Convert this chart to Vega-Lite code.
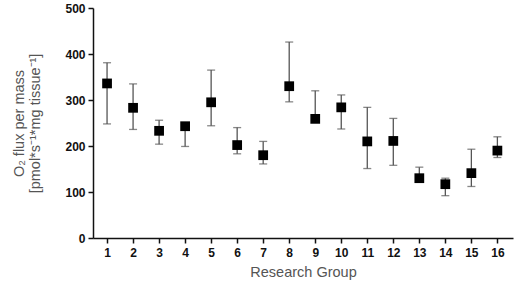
{
  "$schema": "https://vega.github.io/schema/vega-lite/v6.json",
  "autosize": {"type": "none"},
  "width": 420,
  "height": 230,
  "padding": {"left": 93, "top": 8, "right": 19, "bottom": 51},
  "background": "white",
  "config": {
    "view": {"stroke": null},
    "font": "Liberation Sans",
    "axis": {
      "grid": false,
      "domainColor": "#111",
      "domainWidth": 1.5,
      "tickColor": "#111",
      "tickWidth": 1.5,
      "tickSize": 5,
      "labelFont": "Liberation Sans",
      "labelFontWeight": "bold",
      "labelFontSize": 12,
      "labelColor": "#111",
      "titleFont": "Liberation Sans",
      "titleFontWeight": "normal",
      "titleFontSize": 14.5,
      "titleColor": "#555"
    }
  },
  "data": {
    "values": [
      {"group": 1, "mean": 336, "lo": 248, "hi": 381},
      {"group": 2, "mean": 283, "lo": 236, "hi": 335},
      {"group": 3, "mean": 233, "lo": 204, "hi": 256},
      {"group": 4, "mean": 243, "lo": 199, "hi": 248},
      {"group": 5, "mean": 295, "lo": 244, "hi": 365},
      {"group": 6, "mean": 202, "lo": 183, "hi": 240},
      {"group": 7, "mean": 180, "lo": 161, "hi": 210},
      {"group": 8, "mean": 330, "lo": 296, "hi": 426},
      {"group": 9, "mean": 259, "lo": 255, "hi": 320},
      {"group": 10, "mean": 284, "lo": 237, "hi": 311},
      {"group": 11, "mean": 210, "lo": 151, "hi": 284},
      {"group": 12, "mean": 211, "lo": 158, "hi": 260},
      {"group": 13, "mean": 130, "lo": 125, "hi": 154},
      {"group": 14, "mean": 117, "lo": 92, "hi": 130},
      {"group": 15, "mean": 141, "lo": 112, "hi": 193},
      {"group": 16, "mean": 190, "lo": 175, "hi": 220}
    ]
  },
  "encoding": {
    "x": {
      "field": "group",
      "type": "quantitative",
      "scale": {"domain": [0.46, 16.6], "nice": false, "zero": false},
      "axis": {
        "values": [1, 2, 3, 4, 5, 6, 7, 8, 9, 10, 11, 12, 13, 14, 15, 16],
        "format": "d",
        "title": "Research Group",
        "titlePadding": 7,
        "labelPadding": 4
      }
    }
  },
  "layer": [
    {
      "mark": {"type": "rule", "color": "#555", "strokeWidth": 1.3},
      "encoding": {
        "y": {"field": "lo", "type": "quantitative"},
        "y2": {"field": "hi"}
      }
    },
    {
      "mark": {"type": "tick", "orient": "horizontal", "color": "#555", "size": 8, "thickness": 1.3},
      "encoding": {"y": {"field": "hi", "type": "quantitative"}}
    },
    {
      "mark": {"type": "tick", "orient": "horizontal", "color": "#555", "size": 8, "thickness": 1.3},
      "encoding": {"y": {"field": "lo", "type": "quantitative"}}
    },
    {
      "mark": {"type": "square", "filled": true, "color": "#000", "opacity": 1, "size": 95},
      "encoding": {
        "y": {
          "field": "mean",
          "type": "quantitative",
          "scale": {"domain": [0, 500], "nice": false},
          "axis": {
            "values": [0, 100, 200, 300, 400, 500],
            "title": ["O₂ flux per mass", "[pmol*s⁻¹*mg tissue⁻¹]"],
            "titlePadding": 22,
            "labelPadding": 3
          }
        }
      }
    }
  ]
}
